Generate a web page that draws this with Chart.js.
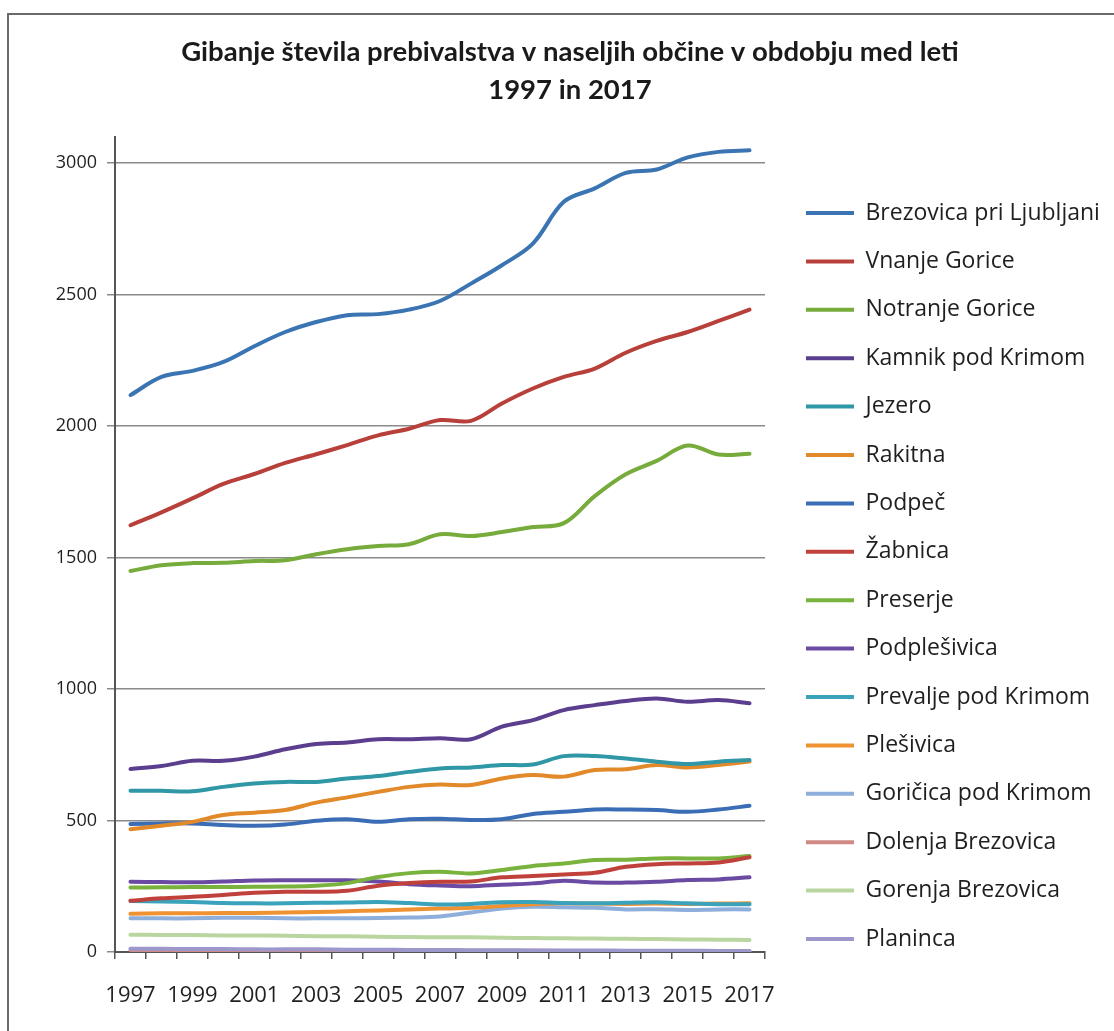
<!DOCTYPE html>
<html>
<head>
<meta charset="utf-8">
<script src="https://cdn.jsdelivr.net/npm/chart.js@4.4.1/dist/chart.umd.min.js"></script>
<style>
  html, body { margin: 0; padding: 0; background: #fff; }
  #wrap { position: relative; width: 1114px; height: 1031px; }
  #frame { position: absolute; left: 7px; top: 13px; width: 1200px; height: 1100px;
           border-top: 2px solid #6a6a6a; border-left: 2px solid #6a6a6a; pointer-events: none; }
  canvas { position: absolute; left: 0; top: 0; }
</style>
</head>
<body>
<div id="wrap">
  <canvas id="c" width="1114" height="1031"></canvas>
  <div id="frame"></div>
</div>
<script>
const years = ['1997','1998','1999','2000','2001','2002','2003','2004','2005','2006','2007','2008','2009','2010','2011','2012','2013','2014','2015','2016','2017'];

const seriesNames = ['Brezovica pri Ljubljani','Vnanje Gorice','Notranje Gorice','Kamnik pod Krimom','Jezero','Rakitna','Podpeč','Žabnica','Preserje','Podplešivica','Prevalje pod Krimom','Plešivica','Goričica pod Krimom','Dolenja Brezovica','Gorenja Brezovica','Planinca'];

const brezovicaPriLjubljani = [2118, 2187, 2210, 2244, 2304, 2358, 2396, 2422, 2426, 2443, 2476, 2542, 2612, 2694, 2853, 2904, 2963, 2976, 3022, 3043, 3049];
const vnanjeGorice        = [1623, 1672, 1725, 1780, 1818, 1860, 1893, 1928, 1965, 1990, 2023, 2020, 2086, 2143, 2187, 2219, 2279, 2324, 2358, 2400, 2443];
const notranjeGorice      = [1449, 1471, 1479, 1480, 1487, 1490, 1513, 1532, 1544, 1551, 1589, 1582, 1597, 1616, 1631, 1734, 1817, 1868, 1926, 1892, 1895];
const kamnikPodKrimom     = [696, 707, 727, 727, 743, 771, 791, 797, 809, 809, 813, 809, 857, 882, 920, 939, 955, 964, 952, 958, 946];
const jezero              = [613, 613, 611, 628, 641, 647, 647, 660, 669, 685, 698, 702, 711, 713, 745, 745, 736, 724, 715, 724, 730];
const rakitna             = [467, 480, 495, 521, 530, 540, 568, 588, 609, 628, 637, 635, 660, 673, 667, 692, 695, 711, 702, 711, 724];
const podpec              = [487, 489, 489, 483, 480, 485, 499, 505, 495, 505, 507, 502, 505, 525, 533, 542, 542, 540, 533, 542, 556];
const zabnica             = [195, 204, 210, 217, 225, 229, 229, 233, 252, 262, 267, 268, 284, 289, 295, 301, 324, 334, 337, 340, 360];
const preserje            = [245, 246, 247, 247, 248, 249, 252, 262, 285, 300, 305, 299, 312, 327, 337, 350, 351, 356, 356, 356, 365];
const podplesivica        = [267, 266, 265, 268, 272, 273, 273, 273, 268, 258, 253, 250, 256, 261, 271, 264, 264, 267, 274, 276, 284];
const prevaljePodKrimom   = [194, 192, 190, 186, 185, 185, 187, 188, 190, 186, 181, 183, 189, 190, 186, 185, 187, 189, 185, 182, 182];
const plesivica           = [145, 147, 147, 148, 148, 150, 152, 155, 158, 162, 165, 168, 175, 182, 185, 184, 183, 184, 183, 184, 185];
const goricicaPodKrimom   = [128, 128, 128, 130, 130, 128, 128, 128, 129, 131, 135, 150, 165, 172, 170, 168, 162, 163, 160, 162, 162];
const dolenjaBrezovica    = [8, 8, 8, 7, 7, 7, 6, 6, 6, 6, 5, 5, 5, 5, 4, 4, 4, 4, 3, 3, 3];
const gorenjaBrezovica    = [66, 65, 65, 63, 63, 62, 60, 60, 58, 57, 56, 56, 54, 53, 52, 51, 50, 49, 48, 47, 46];
const planinca            = [12, 12, 11, 11, 10, 10, 10, 9, 9, 8, 8, 7, 7, 6, 6, 6, 5, 5, 5, 4, 4];

const yTickValues = [0, 500, 1000, 1500, 2000, 2500, 3000];
const titleLines = ['Gibanje števila prebivalstva v naseljih občine v obdobju med leti', '1997 in 2017'];

const seriesValues = [brezovicaPriLjubljani, vnanjeGorice, notranjeGorice, kamnikPodKrimom, jezero, rakitna, podpec, zabnica, preserje, podplesivica, prevaljePodKrimom, plesivica, goricicaPodKrimom, dolenjaBrezovica, gorenjaBrezovica, planinca];
const seriesColors = ['#3a74b2', '#b8403a', '#77ab3c', '#5b3e8e', '#2f97a6', '#e2892a', '#3a6db6', '#c0413b', '#79b23d', '#6a4aa2', '#3aa2ba', '#ef9232', '#8eaedb', '#cf8a86', '#b9d6a0', '#9c98cc'];
const seriesOrder  = [0, 0, 0, 0, 0, 0, 0, 0, 0, 0, 0, 0, 0, 5, 0, 0];

const datasets = seriesNames.map((name, i) => ({
  label: name,
  data: seriesValues[i],
  borderColor: seriesColors[i],
  backgroundColor: seriesColors[i],
  borderWidth: 4,
  pointRadius: 0,
  pointHoverRadius: 0,
  tension: 0.35,
  fill: false,
  order: seriesOrder[i],
  borderCapStyle: 'round',
  borderJoinStyle: 'round'
}));

const TITLE_FONT = 'Lato, "Open Sans", "DejaVu Sans", sans-serif';
const FONT = '"Open Sans", Lato, "DejaVu Sans", sans-serif';
const LEGEND_SIZE = 23;
const LEGEND_PAD = 25.4;
const BOX_W = 48;
const PLOT_RIGHT = 765;
const LEGEND_LEFT = 806 - LEGEND_PAD;

// measure widest legend text to place the legend box
const mctx = document.createElement('canvas').getContext('2d');
mctx.font = LEGEND_SIZE + 'px ' + FONT;
const maxTextW = Math.max(...seriesNames.map(n => mctx.measureText(n).width));
const legendW = LEGEND_PAD + BOX_W + LEGEND_SIZE / 2 + maxTextW + 10;
const PAD_RIGHT = Math.max(0, 1114 - LEGEND_LEFT - legendW);

new Chart(document.getElementById('c'), {
  type: 'line',
  data: { labels: years, datasets },
  options: {
    responsive: false,
    animation: false,
    devicePixelRatio: 1,
    layout: { padding: { left: 30, right: PAD_RIGHT, top: 0, bottom: 0 } },
    plugins: {
      tooltip: { enabled: false },
      title: {
        display: true,
        text: titleLines,
        color: '#1a1a1a',
        font: { family: TITLE_FONT, size: 27.5, weight: 'bold', lineHeight: 1.38 },
        padding: { top: 33, bottom: 28 }
      },
      legend: {
        display: true,
        position: 'right',
        align: 'start',
        maxWidth: 460,
        title: { display: true, text: '', font: { size: 12 }, padding: { top: 161.7, bottom: 0 } },
        labels: {
          color: '#1f1f1f',
          font: { family: FONT, size: LEGEND_SIZE },
          boxWidth: BOX_W,
          boxHeight: 4,
          padding: LEGEND_PAD,
          generateLabels(chart) {
            return chart.data.datasets.map((ds, i) => ({
              text: ds.label,
              fillStyle: ds.borderColor,
              strokeStyle: ds.borderColor,
              lineWidth: 0,
              hidden: false,
              datasetIndex: i,
              fontColor: '#1f1f1f'
            }));
          }
        }
      }
    },
    scales: {
      x: {
        type: 'category',
        offset: true,
        grid: { display: true, offset: true, drawOnChartArea: false, drawTicks: true, tickLength: 7, color: '#555', lineWidth: 1.5 },
        border: { display: true, color: '#555', width: 2 },
        ticks: {
          autoSkip: false,
          maxRotation: 0,
          minRotation: 0,
          padding: 24,
          color: '#1f1f1f',
          font: { family: FONT, size: 22 },
          callback(v, i) { return i % 2 === 0 ? years[i] : ''; }
        },
        afterFit(s) { s.height = 79; }
      },
      y: {
        type: 'linear',
        min: 0,
        max: 3100,
        grid: { display: true, drawOnChartArea: true, drawTicks: true, tickLength: 8, color: '#8a8a8a', lineWidth: 1.5 },
        border: { display: true, color: '#555', width: 2 },
        ticks: {
          stepSize: 500,
          padding: 10,
          color: '#1f1f1f',
          font: { family: FONT, size: 18 },
          callback(v) { return String(v); }
        },
        afterBuildTicks(s) { s.ticks = yTickValues.map(v => ({ value: v })); },
        afterFit(s) { s.width = 85; }
      },
      gap: {
        type: 'linear',
        position: 'right',
        display: true,
        grid: { display: false, drawOnChartArea: false },
        border: { display: false },
        ticks: { display: false },
        afterFit(s) {
          const lw = s.chart.legend ? s.chart.legend.width : 0;
          s.width = Math.max(0, s.chart.width - PAD_RIGHT - PLOT_RIGHT - lw);
        }
      }
    }
  }
});
</script>
</body>
</html>
